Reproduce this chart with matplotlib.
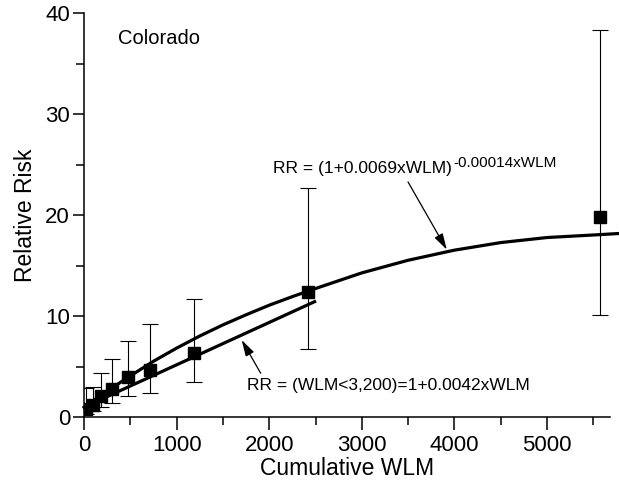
import numpy as np
import matplotlib
matplotlib.use("Agg")
import matplotlib.pyplot as plt
from matplotlib.ticker import MultipleLocator

plt.rcParams.update({
    'font.family': ['Liberation Sans', 'DejaVu Sans'],
    'font.size': 12,
})

# Observed relative risk by cumulative exposure (Colorado)
wlm = [22, 100, 180, 299, 478, 713, 1188, 2416, 5572]
rr = [0.8, 1.22, 2.1, 2.77, 4.02, 4.7, 6.4, 12.4, 19.8]
rr_lo = [0.3, 0.6, 1.05, 1.45, 2.1, 2.38, 3.47, 6.73, 10.1]
rr_hi = [2.9, 3.03, 4.42, 5.74, 7.58, 9.24, 11.68, 22.7, 38.35]

# Fitted curves
upper_wlm = [0, 250, 500, 750, 1000, 1250, 1500, 1750, 2000, 2250, 2500,
             3000, 3500, 4000, 4500, 5000, 5500, 5780]
upper_rr = [1.0, 2.6, 4.1, 5.55, 6.85, 8.05, 9.15, 10.15, 11.1, 11.95, 12.75,
            14.3, 15.55, 16.55, 17.3, 17.8, 18.05, 18.2]
lower_wlm = [0, 2490]
lower_rr = [1.0, 11.45]

fig = plt.figure(figsize=(6.19, 4.84), dpi=100, facecolor="white")
ax = fig.add_axes([0.1357, 0.1378, 0.8498, 0.8347])

ax.plot(upper_wlm, upper_rr, color="black", lw=2.3, clip_on=False, zorder=3)
ax.plot(lower_wlm, lower_rr, color="black", lw=2.3, zorder=3)

yerr = [np.array(rr) - np.array(rr_lo), np.array(rr_hi) - np.array(rr)]
ax.errorbar(wlm, rr, yerr=yerr, fmt="s", color="black", ms=8.5,
            ecolor="black", elinewidth=0.8, capsize=5.5, capthick=0.8, zorder=4)

ax.set_xlim(0, 5680)
ax.set_ylim(0, 40)
ax.xaxis.set_major_locator(MultipleLocator(1000))
ax.xaxis.set_minor_locator(MultipleLocator(500))
ax.yaxis.set_major_locator(MultipleLocator(10))
ax.yaxis.set_minor_locator(MultipleLocator(5))

for side in ("top", "right"):
    ax.spines[side].set_visible(False)
for side in ("left", "bottom"):
    ax.spines[side].set_linewidth(1.1)

ax.tick_params(axis="both", which="major", direction="out", width=1.1,
               labelsize=16, colors="black")
ax.tick_params(axis="x", which="major", length=9.5, pad=3)
ax.tick_params(axis="y", which="major", length=8, pad=2)
ax.tick_params(axis="x", which="minor", length=6, width=1.1)
ax.tick_params(axis="y", which="minor", length=6, width=1.1)

ax.set_xlabel("Cumulative WLM", fontsize=16.5, labelpad=1)
ax.set_ylabel("Relative Risk", fontsize=16.5, labelpad=6)

ax.text(367, 37.55, "Colorado", fontsize=14.5, ha="left", va="center")

# Ligning med eksponent satt som egen tekst
eq1 = ax.text(2041, 24.16, "RR = (1+0.0069xWLM)",
              fontsize=12.5, ha="left", va="baseline")
ax.annotate("-0.00014xWLM", xy=(1.0, 0.0), xycoords=eq1,
            xytext=(1.0, 6.5), textcoords="offset points",
            fontsize=11, ha="left", va="baseline")
ax.text(1760, 2.7, "RR = (WLM<3,200)=1+0.0042xWLM",
        fontsize=12.5, ha="left", va="baseline")

arrow = dict(arrowstyle="-|>,head_length=0.7,head_width=0.2", color="black",
             lw=0.9, shrinkA=0, shrinkB=0, mutation_scale=14)
ax.annotate("", xy=(3917, 16.6), xytext=(3499, 23.3), arrowprops=arrow)
ax.annotate("", xy=(1703, 7.65), xytext=(1908, 4.36), arrowprops=arrow)

fig.savefig("out.png", dpi=100, facecolor="white")
